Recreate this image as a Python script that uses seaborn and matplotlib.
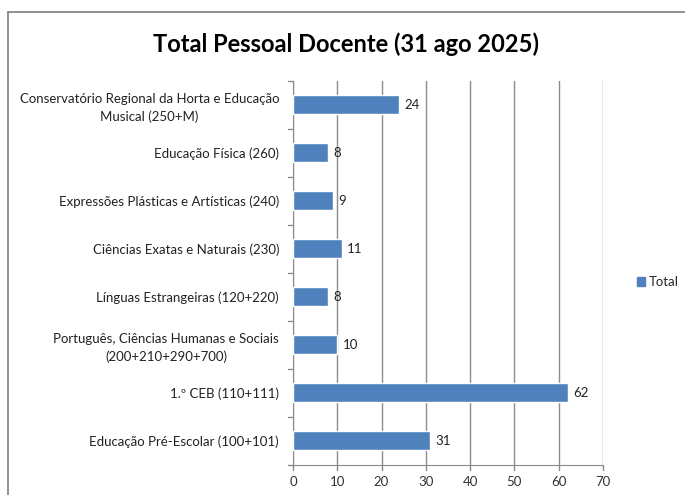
import numpy as np
import pandas as pd
import seaborn as sns
import matplotlib.pyplot as plt
from matplotlib.patches import Patch
from matplotlib.lines import Line2D

categories = ["Conservatório Regional da Horta e Educação\nMusical (250+M)",
              "Educação Física (260)",
              "Expressões Plásticas e Artísticas (240)",
              "Ciências Exatas e Naturais (230)",
              "Línguas Estrangeiras (120+220)",
              "Português, Ciências Humanas e Sociais\n(200+210+290+700)",
              "1.º CEB (110+111)",
              "Educação Pré-Escolar (100+101)"]
totals = [24, 8, 9, 11, 8, 10, 62, 31]
x_ticks = [0, 10, 20, 30, 40, 50, 60, 70]

df = pd.DataFrame({"categoria": categories, "Total": totals})

sns.set_style("white")
plt.rcParams['font.family'] = ['Lato', 'DejaVu Sans']

fig = plt.figure(figsize=(6.85, 4.95), dpi=100)
ax = fig.add_axes([0.4277, 0.061, 0.4526, 0.776])

sns.barplot(data=df, x="Total", y="categoria", orient="h", color="#4F81BD",
            width=0.4, saturation=1, ax=ax, zorder=3)

for i, v in enumerate(totals):
    ax.text(v + 1.2, i, str(v), va="center", ha="left", fontsize=9.5, color="#222222")

ax.set_xlim(0, 70)
ax.set_xticks(x_ticks)
ax.set_xlabel("")
ax.set_ylabel("")
ax.grid(axis="x", color="#8c8c8c", linewidth=1, zorder=0)
ax.tick_params(axis="x", labelsize=9.5, colors="#333333", length=0, pad=8)
ax.tick_params(axis="y", labelsize=9.5, length=0, pad=10)
for lab in ax.get_yticklabels():
    lab.set_multialignment("center")
    lab.set_linespacing(1.5)
    lab.set_color("#222222")

for s in ["top", "right"]:
    ax.spines[s].set_visible(False)
ax.spines["left"].set_color("#8c8c8c")
ax.spines["bottom"].set_color("#8c8c8c")

# tick marks like the original (outside, at boundaries)
for b in np.arange(-0.5, len(categories), 1.0):
    ax.add_line(Line2D([-1.2, 0], [b, b], color="#8c8c8c", lw=1, clip_on=False))
for t in x_ticks:
    ax.add_line(Line2D([t, t], [len(categories) - 0.5, len(categories) - 0.4],
                       color="#8c8c8c", lw=1, clip_on=False))

fig.text(0.505, 0.91, "Total Pessoal Docente (31 ago 2025)", ha="center", va="center",
         fontsize=17, fontweight="bold", color="black")

fig.legend(handles=[Patch(color="#4F81BD", label="Total")], loc="center left",
           bbox_to_anchor=(0.912, 0.43), frameon=False, fontsize=9.5,
           handlelength=0.6, handleheight=0.6, handletextpad=0.3)

# chart frame
fig.add_artist(Line2D([8 / 685, 8 / 685], [0, 1 - 12 / 495], color="#7f7f7f", lw=1.2))
fig.add_artist(Line2D([8 / 685, 1], [1 - 12 / 495, 1 - 12 / 495], color="#7f7f7f", lw=1.2))

fig.savefig("out.png", dpi=100)
